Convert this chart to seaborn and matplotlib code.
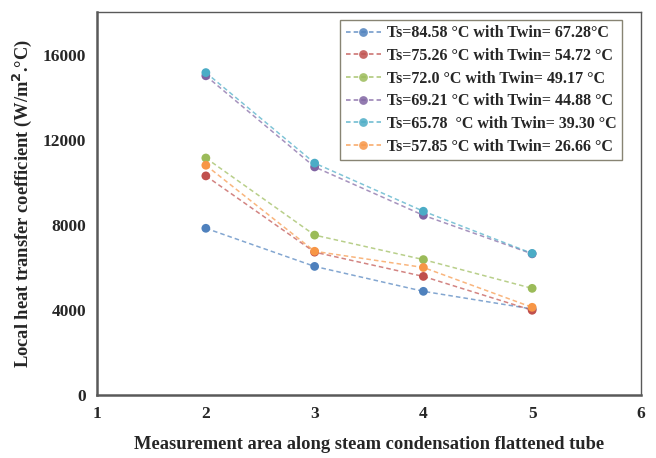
import matplotlib
matplotlib.use("Agg")
import matplotlib.pyplot as plt
import pandas as pd
import seaborn as sns

# Measurement positions along the tube
positions = [2, 3, 4, 5]

# Local heat transfer coefficient (W/m2.C) for each case
h_84 = [7840, 6050, 4880, 4050]
h_75 = [10300, 6720, 5580, 3990]
h_72 = [11140, 7520, 6370, 5020]
h_69 = [15000, 10720, 8450, 6640]
h_65 = [15150, 10900, 8640, 6660]
h_57 = [10800, 6760, 6000, 4130]

labels = [
    "Ts=84.58 \u00b0C with Twin= 67.28\u00b0C",
    "Ts=75.26 \u00b0C with Twin= 54.72 \u00b0C",
    "Ts=72.0 \u00b0C with Twin= 49.17 \u00b0C",
    "Ts=69.21 \u00b0C with Twin= 44.88 \u00b0C",
    "Ts=65.78  \u00b0C with Twin= 39.30 \u00b0C",
    "Ts=57.85 \u00b0C with Twin= 26.66 \u00b0C",
]
series = [h_84, h_75, h_72, h_69, h_65, h_57]
colors = ["#4F81BD", "#C0504D", "#9BBB59", "#8064A2", "#4BACC6", "#F79646"]

df = pd.concat(
    [pd.DataFrame({"x": positions, "h": vals, "case": lab}) for lab, vals in zip(labels, series)],
    ignore_index=True,
)

sns.set_style("white")
plt.rcParams["font.family"] = ["Liberation Serif", "DejaVu Serif"]
plt.rcParams["font.weight"] = "bold"

fig = plt.figure(figsize=(6.56, 4.58), dpi=100)
ax = fig.add_axes([0.148, 0.137, 0.829, 0.837])

# dashed lines (lighter) then solid markers on top
sns.lineplot(data=df, x="x", y="h", hue="case", hue_order=labels, palette=colors,
             linestyle=(0, (3, 2)), linewidth=1.1, alpha=0.7, ax=ax, legend=False)
for lab, col in zip(labels, colors):
    sub = df[df["case"] == lab]
    ax.scatter(sub["x"], sub["h"], s=40, color=col, zorder=3, edgecolors="none")

handles = [plt.Line2D([], [], color=c, linestyle=(0, (3, 2)), linewidth=1.1, marker="o",
                      markersize=6.3, markeredgewidth=0, alpha=0.85) for c in colors]
leg = ax.legend(handles, labels, loc="upper right", bbox_to_anchor=(0.966, 0.98),
                prop={"family": "Liberation Serif", "weight": "bold", "size": 11.5},
                frameon=True, fancybox=False, handlelength=2.2, handletextpad=0.4,
                borderpad=0.35, labelspacing=0.42, borderaxespad=0)
leg.get_frame().set_edgecolor("#6B6650")
leg.get_frame().set_linewidth(1.0)

ax.set_xlim(1, 6)
ax.set_ylim(0, 18000)
ax.set_xticks([1, 2, 3, 4, 5, 6])
ax.set_yticks([0, 4000, 8000, 12000, 16000])
ax.tick_params(axis="both", length=0, labelsize=12.5, pad=8)
for t in ax.get_xticklabels() + ax.get_yticklabels():
    t.set_fontweight("bold")

ax.set_xlabel("Measurement area along steam condensation flattened tube",
              fontsize=13.3, fontweight="bold", labelpad=10)
ax.set_ylabel("Local heat transfer coefficient (W/m$^{\\mathbf{2}}$.\u00b0C)",
              fontsize=13.3, fontweight="bold", labelpad=6)

for side in ["left", "bottom", "top", "right"]:
    ax.spines[side].set_color("#595959")
ax.spines["left"].set_linewidth(1.8)
ax.spines["bottom"].set_linewidth(1.8)
ax.spines["top"].set_linewidth(1.0)
ax.spines["right"].set_linewidth(1.0)

fig.savefig("out.png", dpi=100)
